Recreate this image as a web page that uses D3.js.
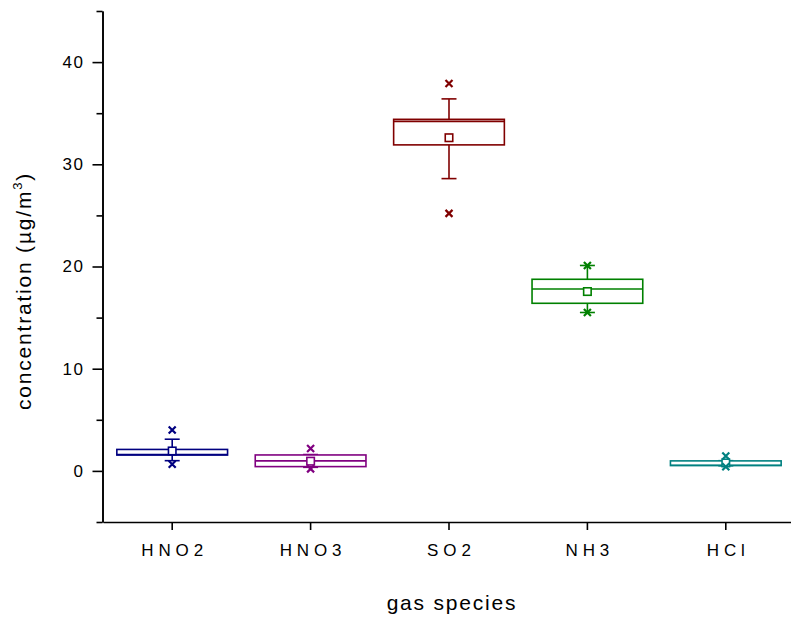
<!DOCTYPE html>
<html>
<head>
<meta charset="utf-8">
<script src="https://cdn.jsdelivr.net/npm/d3@7"></script>
<style>
  html, body { margin: 0; padding: 0; background: #fff; }
  svg { display: block; font-family: Arial, "Liberation Sans", sans-serif; }
</style>
</head>
<body>
<svg id="chart" width="791" height="619"></svg>
<script>
// Gas species concentration statistics (µg/m³)
const species    = ["HNO2", "HNO3", "SO2", "NH3", "HCl"];
const q1         = [1.55, 0.42, 31.9, 16.4, 0.52];
const median     = [1.6, 0.98, 34.2, 17.8, 0.55];
const q3         = [2.1, 1.56, 34.4, 18.75, 0.98];
const whiskerLow = [1.0, 0.35, 28.6, 15.5, 0.5];
const whiskerHigh= [3.1, 1.6, 36.4, 20.1, 1.0];
const means      = [1.95, 0.95, 32.6, 17.55, 0.78];
const pLow       = [0.65, 0.2, 25.2, 15.5, 0.4];
const pHigh      = [4.0, 2.2, 37.9, 20.1, 1.45];
const colors     = ["#000080", "#800080", "#800000", "#008000", "#008080"];

const majorTicks = [0, 10, 20, 30, 40];
const minorTicks = [-5, 5, 15, 25, 35, 45];

const svg = d3.select("#chart");

const y = d3.scaleLinear().domain([-5, 45]).range([522, 11]);
const x = d3.scaleBand().domain(species).range([103, 795]).paddingInner(0).paddingOuter(0);
const cx = s => x(s) + x.bandwidth() / 2;
const boxW = x.bandwidth() * 0.8;
const capW = 15;

// Y axis: minor ticks
const yMinor = svg.append("g")
  .attr("transform", "translate(102.5,0)")
  .call(d3.axisLeft(y).tickValues(minorTicks).tickSize(6).tickSizeOuter(0).tickFormat(""));
// Y axis: major ticks with labels
const yMajor = svg.append("g")
  .attr("transform", "translate(102.5,0)")
  .call(d3.axisLeft(y).tickValues(majorTicks).tickSize(10).tickSizeOuter(0).tickPadding(6));

// X axis
const xAxis = svg.append("g")
  .attr("transform", "translate(0,522)")
  .call(d3.axisBottom(x).tickSize(8).tickSizeOuter(0).tickPadding(14));

[yMinor, yMajor, xAxis].forEach(g => {
  g.selectAll("path.domain").attr("stroke", "#000").attr("stroke-width", 1.6);
  g.selectAll(".tick line").attr("stroke", "#000").attr("stroke-width", 1.6);
});
yMajor.selectAll(".tick text")
  .attr("font-size", 17).attr("fill", "#000")
  .style("letter-spacing", "1.5px")
  .attr("dx", "-2px");
xAxis.selectAll(".tick text")
  .attr("font-size", 17).attr("fill", "#000")
  .style("letter-spacing", "4.9px")
  .attr("dx", "2.45px");

// Axis titles
svg.append("text")
  .attr("x", 452).attr("y", 610)
  .attr("text-anchor", "middle")
  .attr("font-size", 21)
  .style("letter-spacing", "1.8px")
  .text("gas species");

const yTitle = svg.append("text")
  .attr("transform", "translate(31,291) rotate(-90)")
  .attr("text-anchor", "middle")
  .attr("font-size", 21)
  .style("letter-spacing", "1.8px");
yTitle.append("tspan").text("concentration (µg/m");
yTitle.append("tspan").attr("font-size", 13).attr("dy", "-9").text("3");
yTitle.append("tspan").attr("dy", "9").text(")");

// Box plots
const data = species.map((s, i) => ({
  s, q1: q1[i], med: median[i], q3: q3[i], wl: whiskerLow[i], wh: whiskerHigh[i],
  mean: means[i], pl: pLow[i], ph: pHigh[i], color: colors[i]
}));

const g = svg.append("g").attr("fill", "none").attr("stroke-width", 1.6);

data.forEach(d => {
  const c = cx(d.s);
  const grp = g.append("g").attr("stroke", d.color);
  // whiskers
  grp.append("line").attr("x1", c).attr("x2", c).attr("y1", y(d.q3)).attr("y2", y(d.wh));
  grp.append("line").attr("x1", c).attr("x2", c).attr("y1", y(d.q1)).attr("y2", y(d.wl));
  grp.append("line").attr("x1", c - capW / 2).attr("x2", c + capW / 2).attr("y1", y(d.wh)).attr("y2", y(d.wh));
  grp.append("line").attr("x1", c - capW / 2).attr("x2", c + capW / 2).attr("y1", y(d.wl)).attr("y2", y(d.wl));
  // box
  grp.append("rect")
    .attr("x", c - boxW / 2).attr("width", boxW)
    .attr("y", y(d.q3)).attr("height", y(d.q1) - y(d.q3))
    .attr("fill", "#fff");
  grp.append("line").attr("x1", c - boxW / 2).attr("x2", c + boxW / 2).attr("y1", y(d.med)).attr("y2", y(d.med));
  // mean
  grp.append("rect").attr("x", c - 3.75).attr("y", y(d.mean) - 3.75).attr("width", 7.5).attr("height", 7.5).attr("fill", "#fff");
  // 1% / 99% markers
  [d.pl, d.ph].forEach(v => {
    const yy = y(v), r = 3.5;
    grp.append("path")
      .attr("d", `M${c - r},${yy - r}L${c + r},${yy + r}M${c - r},${yy + r}L${c + r},${yy - r}`)
      .attr("stroke-width", 2.2);
  });
});
</script>
</body>
</html>
